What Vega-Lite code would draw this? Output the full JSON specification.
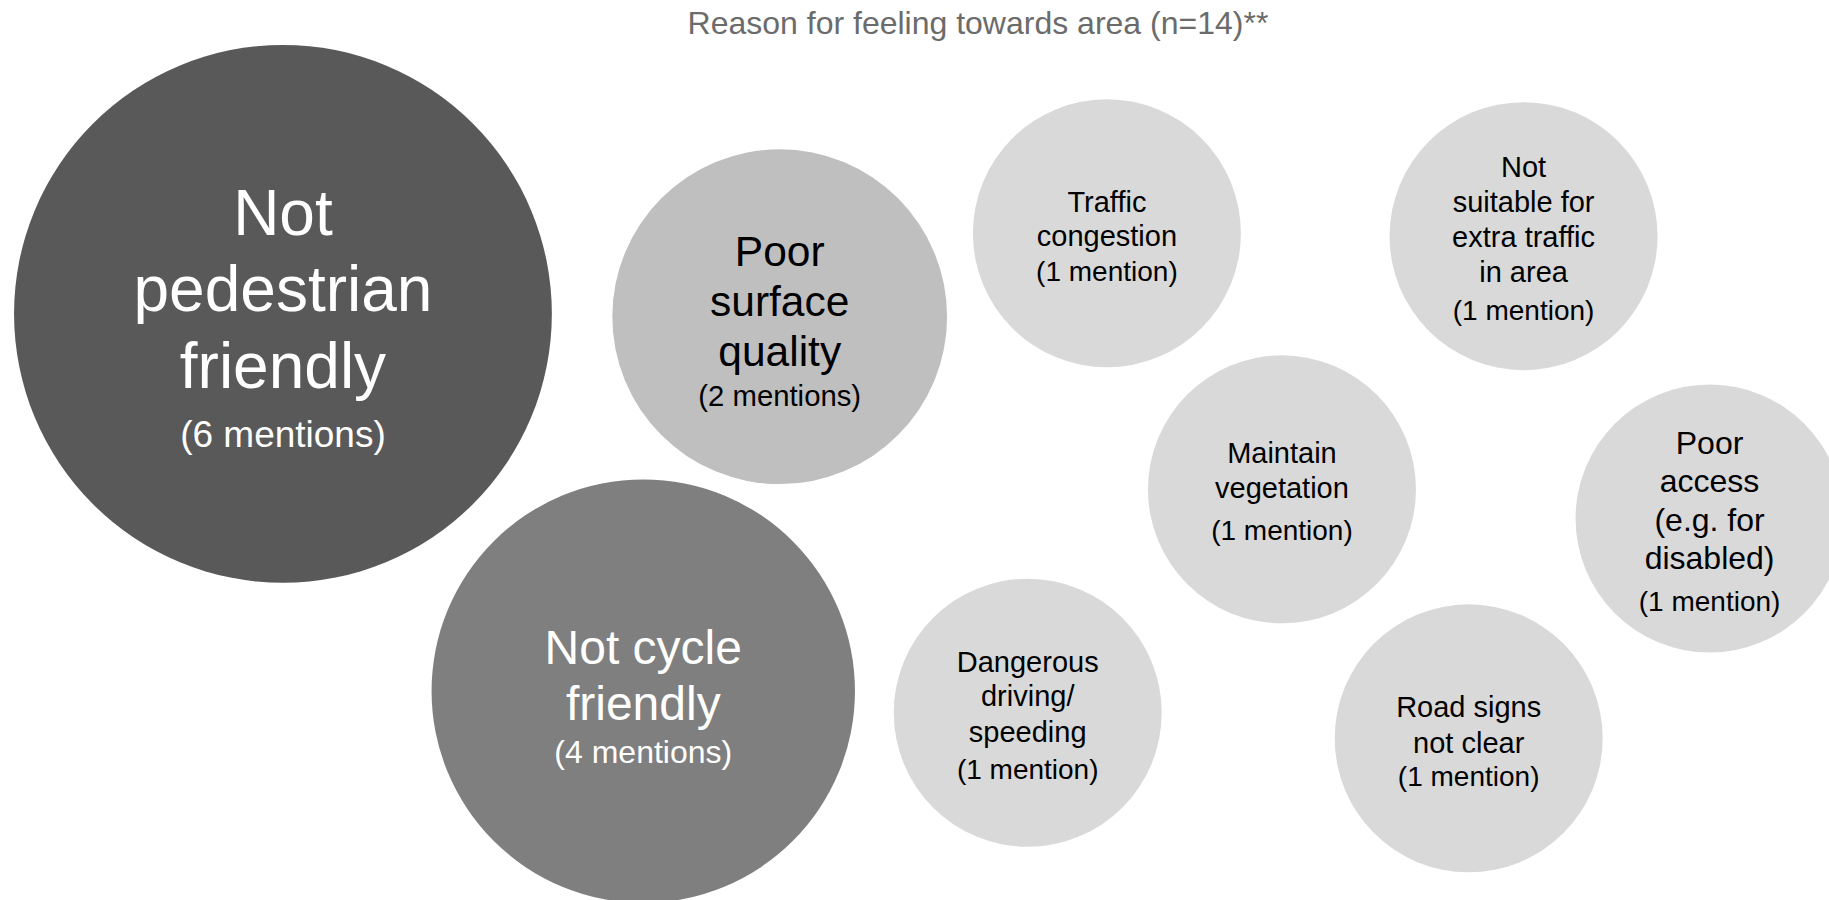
{
  "$schema": "https://vega.github.io/schema/vega-lite/v6.json",
  "width": 1829,
  "height": 900,
  "autosize": {"type": "none"},
  "padding": 0,
  "background": "#ffffff",
  "config": {"view": {"stroke": null}, "text": {"font": "Liberation Sans"}},
  "datasets": {
    "bubbles": [
      {"reason": "Not pedestrian friendly", "mentions": 6, "x": 15.47, "y": 34.87},
      {"reason": "Poor surface quality", "mentions": 2, "x": 42.63, "y": 35.19},
      {"reason": "Not cycle friendly", "mentions": 4, "x": 35.17, "y": 76.79},
      {"reason": "Traffic congestion", "mentions": 1, "x": 60.52, "y": 25.92},
      {"reason": "Not suitable for extra traffic in area", "mentions": 1, "x": 83.30, "y": 26.24},
      {"reason": "Maintain vegetation", "mentions": 1, "x": 70.09, "y": 54.37},
      {"reason": "Poor access (e.g. for disabled)", "mentions": 1, "x": 93.47, "y": 57.61},
      {"reason": "Dangerous driving/ speeding", "mentions": 1, "x": 56.19, "y": 79.19},
      {"reason": "Road signs not clear", "mentions": 1, "x": 80.30, "y": 82.04}
    ],
    "lines": [
      {"reason": "Not pedestrian friendly", "mentions": 6, "part": "label", "text": "Not", "x": 15.47, "y": 26.11},
      {"reason": "Not pedestrian friendly", "mentions": 6, "part": "label", "text": "pedestrian", "x": 15.47, "y": 34.56},
      {"reason": "Not pedestrian friendly", "mentions": 6, "part": "label", "text": "friendly", "x": 15.47, "y": 43.11},
      {"reason": "Not pedestrian friendly", "mentions": 6, "part": "count", "text": "(6 mentions)", "x": 15.47, "y": 49.72},
      {"reason": "Poor surface quality", "mentions": 2, "part": "label", "text": "Poor", "x": 42.63, "y": 29.56},
      {"reason": "Poor surface quality", "mentions": 2, "part": "label", "text": "surface", "x": 42.63, "y": 35.11},
      {"reason": "Poor surface quality", "mentions": 2, "part": "label", "text": "quality", "x": 42.63, "y": 40.67},
      {"reason": "Poor surface quality", "mentions": 2, "part": "count", "text": "(2 mentions)", "x": 42.63, "y": 45.11},
      {"reason": "Not cycle friendly", "mentions": 4, "part": "label", "text": "Not cycle", "x": 35.17, "y": 73.78},
      {"reason": "Not cycle friendly", "mentions": 4, "part": "label", "text": "friendly", "x": 35.17, "y": 80.00},
      {"reason": "Not cycle friendly", "mentions": 4, "part": "count", "text": "(4 mentions)", "x": 35.17, "y": 84.78},
      {"reason": "Traffic congestion", "mentions": 1, "part": "label", "text": "Traffic", "x": 60.52, "y": 23.56},
      {"reason": "Traffic congestion", "mentions": 1, "part": "label", "text": "congestion", "x": 60.52, "y": 27.30},
      {"reason": "Traffic congestion", "mentions": 1, "part": "count", "text": "(1 mention)", "x": 60.52, "y": 31.22},
      {"reason": "Not suitable for extra traffic in area", "mentions": 1, "part": "label", "text": "Not", "x": 83.30, "y": 19.70},
      {"reason": "Not suitable for extra traffic in area", "mentions": 1, "part": "label", "text": "suitable for", "x": 83.30, "y": 23.56},
      {"reason": "Not suitable for extra traffic in area", "mentions": 1, "part": "label", "text": "extra traffic", "x": 83.30, "y": 27.44},
      {"reason": "Not suitable for extra traffic in area", "mentions": 1, "part": "label", "text": "in area", "x": 83.30, "y": 31.33},
      {"reason": "Not suitable for extra traffic in area", "mentions": 1, "part": "count", "text": "(1 mention)", "x": 83.30, "y": 35.61},
      {"reason": "Maintain vegetation", "mentions": 1, "part": "label", "text": "Maintain", "x": 70.09, "y": 51.44},
      {"reason": "Maintain vegetation", "mentions": 1, "part": "label", "text": "vegetation", "x": 70.09, "y": 55.30},
      {"reason": "Maintain vegetation", "mentions": 1, "part": "count", "text": "(1 mention)", "x": 70.09, "y": 60.00},
      {"reason": "Poor access (e.g. for disabled)", "mentions": 1, "part": "biglabel", "text": "Poor", "x": 93.47, "y": 50.48},
      {"reason": "Poor access (e.g. for disabled)", "mentions": 1, "part": "biglabel", "text": "access", "x": 93.47, "y": 54.64},
      {"reason": "Poor access (e.g. for disabled)", "mentions": 1, "part": "biglabel", "text": "(e.g. for", "x": 93.47, "y": 59.03},
      {"reason": "Poor access (e.g. for disabled)", "mentions": 1, "part": "biglabel", "text": "disabled)", "x": 93.47, "y": 63.24},
      {"reason": "Poor access (e.g. for disabled)", "mentions": 1, "part": "count", "text": "(1 mention)", "x": 93.47, "y": 67.94},
      {"reason": "Dangerous driving/ speeding", "mentions": 1, "part": "label", "text": "Dangerous", "x": 56.19, "y": 74.67},
      {"reason": "Dangerous driving/ speeding", "mentions": 1, "part": "label", "text": "driving/", "x": 56.19, "y": 78.44},
      {"reason": "Dangerous driving/ speeding", "mentions": 1, "part": "label", "text": "speeding", "x": 56.19, "y": 82.44},
      {"reason": "Dangerous driving/ speeding", "mentions": 1, "part": "count", "text": "(1 mention)", "x": 56.19, "y": 86.56},
      {"reason": "Road signs not clear", "mentions": 1, "part": "label", "text": "Road signs", "x": 80.30, "y": 79.67},
      {"reason": "Road signs not clear", "mentions": 1, "part": "label", "text": "not clear", "x": 80.30, "y": 83.67},
      {"reason": "Road signs not clear", "mentions": 1, "part": "count", "text": "(1 mention)", "x": 80.30, "y": 87.33}
    ],
    "titles": [
      {"text": "Reason for feeling towards area (n=14)**", "x": 53.47, "y": 3.78}
    ]
  },
  "encoding": {
    "x": {"field": "x", "type": "quantitative", "scale": {"domain": [0, 100], "nice": false, "zero": false}, "axis": null},
    "y": {"field": "y", "type": "quantitative", "scale": {"domain": [0, 100], "nice": false, "zero": false, "reverse": true}, "axis": null}
  },
  "layer": [
    {
      "data": {"name": "bubbles"},
      "mark": {"type": "point", "shape": "circle", "filled": true, "opacity": 1, "strokeWidth": 0},
      "encoding": {
        "size": {"field": "mentions", "type": "quantitative", "scale": {"domain": [1, 2, 4, 6], "range": [71824, 112091, 179268, 289229]}, "legend": null},
        "color": {"field": "mentions", "type": "ordinal", "scale": {"domain": [6, 4, 2, 1], "range": ["#595959", "#7f7f7f", "#bfbfbf", "#d9d9d9"]}, "legend": null}
      }
    },
    {
      "data": {"name": "titles"},
      "mark": {"type": "text", "align": "center", "baseline": "alphabetic", "fontSize": 32, "fill": "#6b6b6b"},
      "encoding": {"text": {"field": "text"}}
    },
    {
      "data": {"name": "lines"},
      "transform": [{"filter": "datum.mentions === 6 && datum.part === 'label'"}],
      "mark": {"type": "text", "align": "center", "baseline": "alphabetic", "fontSize": 64, "fill": "#ffffff"},
      "encoding": {"text": {"field": "text"}}
    },
    {
      "data": {"name": "lines"},
      "transform": [{"filter": "datum.mentions === 6 && datum.part === 'count'"}],
      "mark": {"type": "text", "align": "center", "baseline": "alphabetic", "fontSize": 37, "fill": "#ffffff"},
      "encoding": {"text": {"field": "text"}}
    },
    {
      "data": {"name": "lines"},
      "transform": [{"filter": "datum.mentions === 4 && datum.part === 'label'"}],
      "mark": {"type": "text", "align": "center", "baseline": "alphabetic", "fontSize": 48, "fill": "#ffffff"},
      "encoding": {"text": {"field": "text"}}
    },
    {
      "data": {"name": "lines"},
      "transform": [{"filter": "datum.mentions === 4 && datum.part === 'count'"}],
      "mark": {"type": "text", "align": "center", "baseline": "alphabetic", "fontSize": 32, "fill": "#ffffff"},
      "encoding": {"text": {"field": "text"}}
    },
    {
      "data": {"name": "lines"},
      "transform": [{"filter": "datum.mentions === 2 && datum.part === 'label'"}],
      "mark": {"type": "text", "align": "center", "baseline": "alphabetic", "fontSize": 42.5, "fill": "#000000"},
      "encoding": {"text": {"field": "text"}}
    },
    {
      "data": {"name": "lines"},
      "transform": [{"filter": "datum.mentions === 2 && datum.part === 'count'"}],
      "mark": {"type": "text", "align": "center", "baseline": "alphabetic", "fontSize": 29.3, "fill": "#000000"},
      "encoding": {"text": {"field": "text"}}
    },
    {
      "data": {"name": "lines"},
      "transform": [{"filter": "datum.mentions === 1 && datum.part === 'label'"}],
      "mark": {"type": "text", "align": "center", "baseline": "alphabetic", "fontSize": 29, "fill": "#000000"},
      "encoding": {"text": {"field": "text"}}
    },
    {
      "data": {"name": "lines"},
      "transform": [{"filter": "datum.part === 'biglabel'"}],
      "mark": {"type": "text", "align": "center", "baseline": "alphabetic", "fontSize": 32, "fill": "#000000"},
      "encoding": {"text": {"field": "text"}}
    },
    {
      "data": {"name": "lines"},
      "transform": [{"filter": "datum.mentions === 1 && datum.part === 'count'"}],
      "mark": {"type": "text", "align": "center", "baseline": "alphabetic", "fontSize": 28, "fill": "#000000"},
      "encoding": {"text": {"field": "text"}}
    }
  ]
}
